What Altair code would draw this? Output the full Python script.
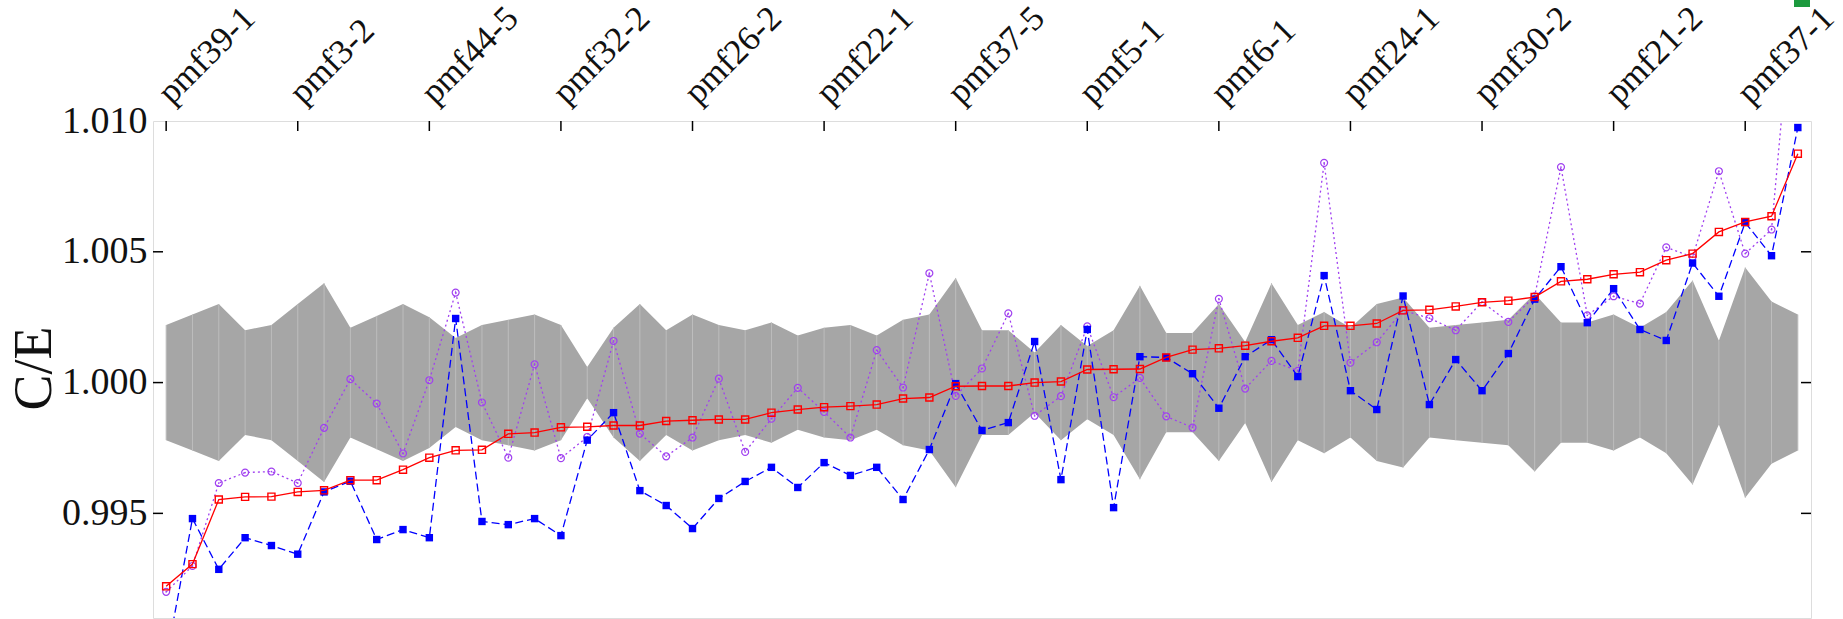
import altair as alt
import pandas as pd

# ---- data -------------------------------------------------------------
tick_step = 5
tick_labels = ["pmf39-1", "pmf3-2", "pmf44-5", "pmf32-2", "pmf26-2", "pmf22-1",
               "pmf37-5", "pmf5-1", "pmf6-1", "pmf24-1", "pmf30-2", "pmf21-2", "pmf37-1"]

# C/E, solid red, open squares
red = [0.99221, 0.99306, 0.99553, 0.99563, 0.99564, 0.99582, 0.99588, 0.99627, 0.99627, 0.99667,
       0.99713, 0.99741, 0.99743, 0.99804, 0.99809, 0.99829, 0.99831, 0.99836, 0.99836, 0.99853,
       0.99856, 0.99859, 0.99859, 0.99885, 0.99897, 0.99906, 0.99910, 0.99916, 0.99939, 0.99943,
       0.99986, 0.99987, 0.99987, 1.00000, 1.00004, 1.00050, 1.00051, 1.00052, 1.00096, 1.00126,
       1.00131, 1.00141, 1.00158, 1.00171, 1.00217, 1.00217, 1.00226, 1.00276, 1.00278, 1.00291,
       1.00307, 1.00313, 1.00327, 1.00387, 1.00395, 1.00414, 1.00422, 1.00468, 1.00493, 1.00576,
       1.00614, 1.00636, 1.00875]

# C/E, dashed blue, filled squares
blue = [0.98940, 0.99480, 0.99286, 0.99407, 0.99377, 0.99344, 0.99582, 0.99623, 0.99400, 0.99438,
        0.99407, 1.00245, 0.99469, 0.99457, 0.99480, 0.99415, 0.99780, 0.99885, 0.99587, 0.99530,
        0.99442, 0.99557, 0.99622, 0.99676, 0.99599, 0.99694, 0.99645, 0.99676, 0.99553, 0.99744,
        0.99996, 0.99817, 0.99847, 1.00157, 0.99629, 1.00203, 0.99522, 1.00099, 1.00096, 1.00034,
        0.99902, 1.00099, 1.00164, 1.00023, 1.00409, 0.99969, 0.99897, 1.00331, 0.99916, 1.00088,
        0.99969, 1.00111, 1.00319, 1.00443, 1.00229, 1.00359, 1.00203, 1.00161, 1.00457, 1.00330,
        1.00612, 1.00485, 1.00975]

# C/E, dotted purple, open circles
purple = [0.99200, 0.99299, 0.99616, 0.99656, 0.99660, 0.99616, 0.99827, 1.00013, 0.99920, 0.99729,
          1.00009, 1.00344, 0.99924, 0.99713, 1.00070, 0.99711, 0.99792, 1.00159, 0.99805, 0.99718,
          0.99790, 1.00015, 0.99735, 0.99862, 0.99980, 0.99888, 0.99790, 1.00124, 0.99981, 1.00418,
          0.99949, 1.00054, 1.00265, 0.99873, 0.99948, 1.00215, 0.99944, 1.00018, 0.99871, 0.99828,
          1.00320, 0.99977, 1.00083, 1.00045, 1.00840, 1.00076, 1.00154, 1.00276, 1.00246, 1.00200,
          1.00308, 1.00232, 1.00330, 1.00824, 1.00257, 1.00330, 1.00302, 1.00517, 1.00480, 1.00808,
          1.00493, 1.00585, 1.01700]

# experimental uncertainty (half width of the grey band around 1)
err = [0.0022, 0.0026, 0.0030, 0.0020, 0.0022, 0.0030, 0.0038, 0.0021, 0.00255, 0.0030,
       0.0025, 0.0017, 0.0022, 0.0024, 0.0026, 0.0022, 0.0006, 0.0021, 0.0030, 0.0020,
       0.0026, 0.0022, 0.0020, 0.0023, 0.0018, 0.0021, 0.0022, 0.0018, 0.0024, 0.0026,
       0.0040, 0.0020, 0.0020, 0.00115, 0.0022, 0.0014, 0.0020, 0.0037, 0.0019, 0.0019,
       0.0030, 0.00155, 0.0038, 0.0022, 0.0027, 0.0021, 0.0030, 0.00325, 0.0021, 0.0022,
       0.0023, 0.0024, 0.0034, 0.0023, 0.0023, 0.0026, 0.0021, 0.0027, 0.0039, 0.0016,
       0.0044, 0.0031, 0.0026]

y_ticks = [0.995, 1.000, 1.005, 1.010]

# ---- tables -----------------------------------------------------------
n = len(red)
df = pd.DataFrame({
    "idx": list(range(n)),
    "red": red,
    "blue": blue,
    "purple": purple,
    "lower": [1 - e for e in err],
    "upper": [1 + e for e in err],
})
xt = pd.DataFrame({"idx": [i * tick_step for i in range(len(tick_labels))]})
yt = pd.DataFrame({"v": y_ticks[:-1]})

# ---- styling ----------------------------------------------------------
W, H = 1658, 497
FONT = "Liberation Serif"
RED, BLUE, PURPLE = "#ff0000", "#0000ff", "#a040f0"

label_expr = "[" + ",".join(f"'{s}'" for s in tick_labels) + "][datum.value / %d]" % tick_step

xscale = alt.Scale(domain=[-0.5, n - 0.5], nice=False, zero=False)
yscale = alt.Scale(domain=[0.991, 1.010], nice=False, zero=False)

xaxis = alt.Axis(orient="top", values=list(xt["idx"]), labelExpr=label_expr,
                 labelAngle=315, labelAlign="left", labelBaseline="bottom",
                 labelPadding=11, labelOffset=10, labelFontSize=35, labelFont=FONT,
                 labelColor="#111", ticks=False, domain=False, grid=False, title=None,
                 labelOverlap=False)
yaxis = alt.Axis(values=y_ticks, format=".3f", labelFontSize=38, labelFont=FONT,
                 labelColor="#111", labelPadding=6, ticks=False, domain=False, grid=False,
                 title="C/E", titleFont=FONT, titleFontSize=54, titleFontWeight="normal",
                 titleColor="#111", titleAngle=270, titleX=-119, titleY=247,
                 titleAlign="center", titleBaseline="middle")

X = alt.X("idx:Q", scale=xscale, axis=xaxis)


def Y(field):
    return alt.Y(f"{field}:Q", scale=yscale, axis=yaxis, title="C/E")


base = alt.Chart(df)

band = base.mark_area(color="#a6a6a6", opacity=1, clip=True).encode(
    x=X, y=Y("lower"), y2="upper:Q")
seams = base.mark_rule(color="#bdbdbd", strokeWidth=1, clip=True).encode(
    x=X, y=Y("lower"), y2="upper:Q")

p_line = base.mark_line(color=PURPLE, strokeWidth=1.3, strokeDash=[2, 3], clip=True).encode(
    x=X, y=Y("purple"))
p_pts = base.mark_point(shape="circle", filled=False, size=48, strokeWidth=1.2,
                        color=PURPLE, opacity=1, clip=True).encode(x=X, y=Y("purple"))
p_dot = base.mark_point(shape="circle", filled=True, size=3, color=PURPLE,
                        opacity=1, clip=True).encode(x=X, y=Y("purple"))

b_line = base.mark_line(color=BLUE, strokeWidth=1.3, strokeDash=[8, 4], clip=True).encode(
    x=X, y=Y("blue"))
b_pts = base.mark_point(shape="square", filled=True, size=55, color=BLUE,
                        opacity=1, clip=True).encode(x=X, y=Y("blue"))

r_line = base.mark_line(color=RED, strokeWidth=1.3, clip=True).encode(x=X, y=Y("red"))
r_pts = base.mark_point(shape="square", filled=False, size=50, strokeWidth=1.4,
                        color=RED, opacity=1, clip=True).encode(x=X, y=Y("red"))

# inward tick marks on the frame
top_ticks = alt.Chart(xt).mark_rule(color="black", strokeWidth=1.5).encode(
    x=X, y=alt.value(0), y2=alt.value(10))
left_ticks = alt.Chart(yt).mark_rule(color="black", strokeWidth=1.5).encode(
    y=alt.Y("v:Q", scale=yscale, axis=yaxis, title="C/E"), x=alt.value(0), x2=alt.value(10))
right_ticks = alt.Chart(yt).mark_rule(color="black", strokeWidth=1.5).encode(
    y=alt.Y("v:Q", scale=yscale, axis=yaxis, title="C/E"), x=alt.value(W - 10), x2=alt.value(W))

# legend swatch peeking in at the top edge
swatch = alt.Chart(pd.DataFrame({"k": [0]})).mark_rect(color="#1c9a3e", clip=False).encode(
    x=alt.value(W - 17), x2=alt.value(W - 1), y=alt.value(-126), y2=alt.value(-114))

chart = alt.layer(
    band, seams, p_line, p_pts, p_dot, b_line, b_pts, r_line, r_pts,
    top_ticks, left_ticks, right_ticks, swatch
).properties(
    width=W, height=H,
    autosize=alt.AutoSizeParams(type="none"),
    padding={"left": 153, "top": 121, "right": 32, "bottom": 1},
).configure_view(
    stroke="black", strokeWidth=2
).configure(background="white")

chart.save("out.html", embed_options={"renderer": "svg", "actions": False})
